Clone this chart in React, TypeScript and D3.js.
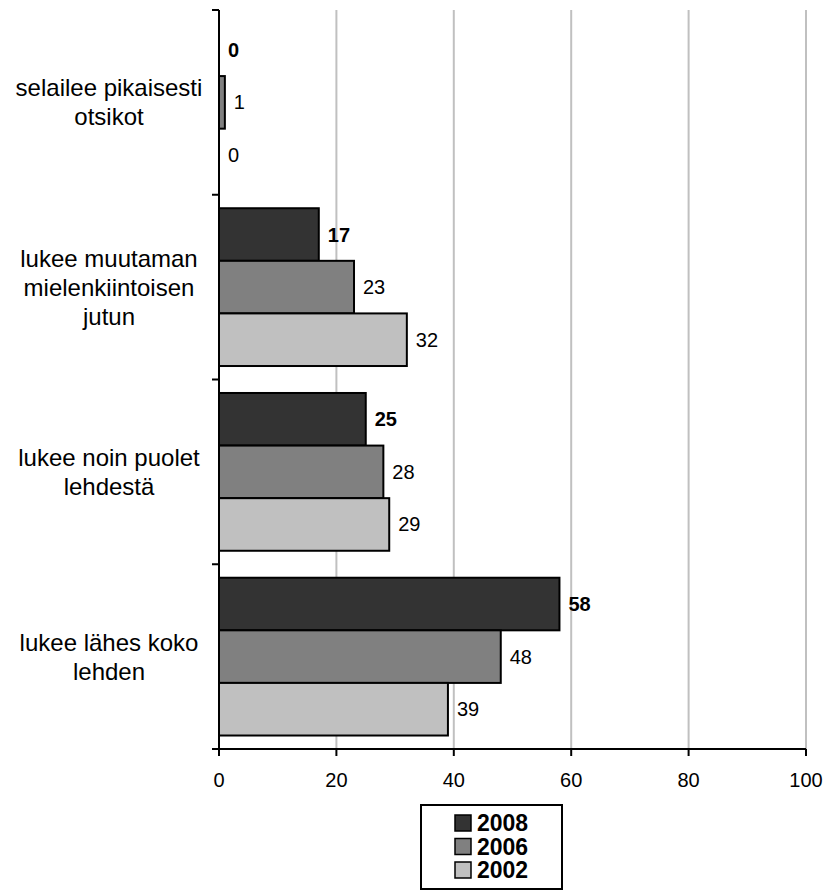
import React from "react";
import * as d3 from "d3";

const categories = [
  "selailee pikaisesti\notsikot",
  "lukee muutaman\nmielenkiintoisen\njutun",
  "lukee noin puolet\nlehdestä",
  "lukee lähes koko\nlehden",
];
const seriesNames = ["2008", "2006", "2002"];
const values2008 = [0, 17, 25, 58];
const values2006 = [1, 23, 28, 48];
const values2002 = [0, 32, 29, 39];
const xTicks = [0, 20, 40, 60, 80, 100];
const colors = ["#333333", "#808080", "#c0c0c0"];

const FONT = "'Liberation Sans', Arial, sans-serif";

export default function App() {
  const W = 829, H = 891;
  const x0 = 219, x1 = 806, yTop = 10, yBot = 749;
  const x = d3.scaleLinear().domain([0, 100]).range([x0, x1]);
  const yBand = d3.scaleBand<number>().domain(d3.range(categories.length)).range([yTop, yBot]).paddingInner(0).paddingOuter(0);
  const bw = yBand.bandwidth();
  const groupPad = 0.073 * bw;
  const inner = d3.scaleBand<number>().domain([0, 1, 2]).range([groupPad, bw - groupPad]).padding(0);
  const series = [values2008, values2006, values2002];

  return (
    <svg width={W} height={H} style={{ position: "absolute", left: 0, top: 0, fontFamily: FONT }}>
      <rect x={0} y={0} width={W} height={H} fill="#fff" />
      {xTicks.filter((t) => t > 0).map((t) => (
        <line key={"g" + t} x1={x(t)} x2={x(t)} y1={yTop} y2={yBot} stroke="#c0c0c0" strokeWidth={2} />
      ))}
      {series.map((vals, si) =>
        vals.map((v, ci) => {
          const yb = (yBand(ci) as number) + (inner(si) as number);
          const h = inner.bandwidth();
          return (
            <g key={`b${si}-${ci}`}>
              {v > 0 && (
                <rect x={x(0)} y={yb} width={x(v) - x(0)} height={h} fill={colors[si]} stroke="#000" strokeWidth={2} />
              )}
              <text x={x(v) + 9} y={yb + h / 2} dy="0.35em" fontSize={20} fontWeight={si === 0 ? "bold" : "normal"} fill="#000">
                {v}
              </text>
            </g>
          );
        })
      )}
      {/* y axis */}
      <line x1={x0} x2={x0} y1={yTop} y2={yBot} stroke="#000" strokeWidth={2} />
      {d3.range(categories.length + 1).map((i) => {
        const yy = yTop + i * bw;
        return <line key={"yt" + i} x1={x0 - 7} x2={x0} y1={yy} y2={yy} stroke="#000" strokeWidth={2} />;
      })}
      {/* x axis */}
      <line x1={x0 - 7} x2={x1} y1={yBot} y2={yBot} stroke="#000" strokeWidth={2} />
      {xTicks.map((t) => (
        <g key={"xt" + t}>
          <line x1={x(t)} x2={x(t)} y1={yBot} y2={yBot + 7} stroke="#000" strokeWidth={2} />
          <text x={x(t)} y={yBot + 31} dy="0.35em" textAnchor="middle" fontSize={20} fill="#000">
            {t}
          </text>
        </g>
      ))}
      {categories.map((c, i) => {
        const lines = c.split("\n");
        const cy = (yBand(i) as number) + bw / 2;
        const lh = 29;
        return (
          <text key={"c" + i} textAnchor="middle" fontSize={24} fill="#000">
            {lines.map((l, j) => (
              <tspan key={j} x={109} y={cy + (j - (lines.length - 1) / 2) * lh} dy="0.35em">
                {l}
              </tspan>
            ))}
          </text>
        );
      })}
      {/* legend */}
      <rect x={421} y={805} width={141} height={84} fill="#fff" stroke="#000" strokeWidth={2} />
      {seriesNames.map((s, i) => {
        const cy = 823 + i * 23.5;
        return (
          <g key={"l" + s}>
            <rect x={455} y={cy - 8} width={16} height={16} fill={colors[i]} stroke="#000" strokeWidth={1.5} />
            <text x={477} y={cy} dy="0.36em" fontSize={23} fontWeight="bold" fill="#000">
              {s}
            </text>
          </g>
        );
      })}
    </svg>
  );
}
